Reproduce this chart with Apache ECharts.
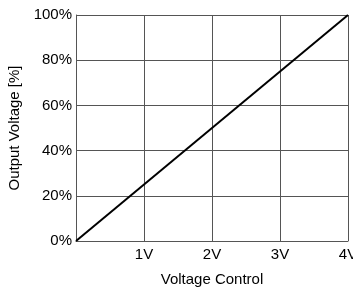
<!DOCTYPE html>
<html>
<head>
<meta charset="utf-8">
<script src="https://cdn.jsdelivr.net/npm/echarts@6/dist/echarts.min.js"></script>
<style>html,body{margin:0;padding:0;background:#fff;overflow:hidden}#c{width:353px;height:289px}</style>
</head>
<body>
<div id="c"></div>
<script>
const voltage = [0, 4];
const output = [0, 100];
const xTicks = ['', '1V', '2V', '3V', '4V'];
const yTicks = ['0%', '20%', '40%', '60%', '80%', '100%'];

const chart = echarts.init(document.getElementById('c'), null, {renderer: 'canvas', width: 353, height: 289});
const font = 'Liberation Sans';
const gridColor = '#555';
chart.setOption({
  animation: false,
  grid: {left: 76, right: 5, top: 15, bottom: 48, containLabel: false, outerBoundsMode: 'none'},
  xAxis: {
    type: 'value', min: 0, max: 4, interval: 1,
    name: 'Voltage Control', nameLocation: 'middle', nameGap: 31,
    nameTextStyle: {fontFamily: font, fontSize: 15, color: '#000'},
    axisLine: {show: true, lineStyle: {color: gridColor, width: 1}},
    axisTick: {show: false},
    axisLabel: {fontFamily: font, fontSize: 15, color: '#000', margin: 6,
      formatter: (v) => xTicks[Math.round(v)]},
    splitLine: {show: true, lineStyle: {color: gridColor, width: 1}}
  },
  yAxis: {
    type: 'value', min: 0, max: 100, interval: 20,
    name: 'Output Voltage [%]', nameLocation: 'middle', nameGap: 42,
    nameTextStyle: {fontFamily: font, fontSize: 15, color: '#000'},
    axisLine: {show: true, lineStyle: {color: gridColor, width: 1}},
    axisTick: {show: false},
    axisLabel: {fontFamily: font, fontSize: 15, color: '#000', margin: 4,
      formatter: (v) => yTicks[Math.round(v / 20)]},
    splitLine: {show: true, lineStyle: {color: gridColor, width: 1}}
  },
  series: [{
    type: 'line',
    data: voltage.map((v, i) => [v, output[i]]),
    symbol: 'none',
    lineStyle: {color: '#000', width: 2},
    clip: false
  }]
});
</script>
</body>
</html>
